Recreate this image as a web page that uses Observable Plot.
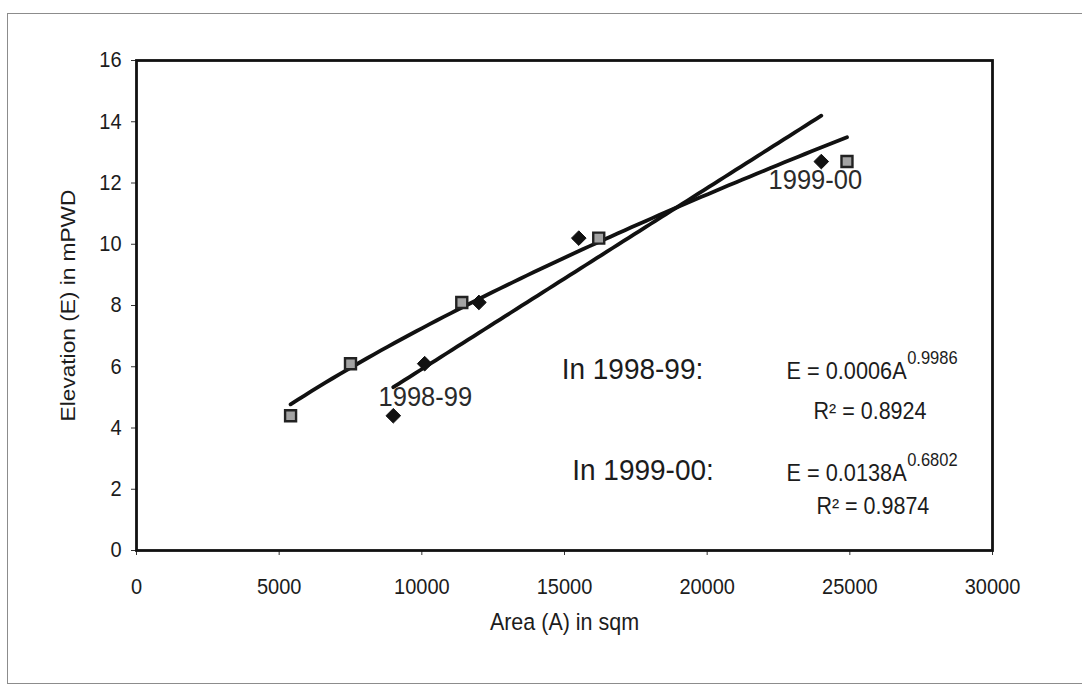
<!DOCTYPE html>
<html>
<head>
<meta charset="utf-8">
<script src="https://cdn.jsdelivr.net/npm/d3@7"></script>
<script src="https://cdn.jsdelivr.net/npm/@observablehq/plot@0.6"></script>
<style>
  html, body { margin: 0; padding: 0; background: #fff; }
  #wrap { position: relative; width: 1082px; height: 686px; overflow: hidden; }
  #wrap svg { position: absolute; left: 0; top: 0; }
  #sheet {
    position: absolute; left: 7px; top: 13px; width: 1120px; height: 671px;
    border: 1.5px solid #8c8c8c; border-right: none; box-sizing: border-box;
    pointer-events: none;
  }
</style>
</head>
<body>
<div id="wrap"><div id="sheet"></div></div>
<script>
// Axis ticks
const areaTicks = [0, 5000, 10000, 15000, 20000, 25000, 30000];
const elevTicks = [0, 2, 4, 6, 8, 10, 12, 14, 16];

// Surveyed points: water-surface area (sqm) against elevation (mPWD)
const area9899 = [9000, 10100, 12000, 15500, 24000];
const elev9899 = [4.4, 6.1, 8.1, 10.2, 12.7];
const area9900 = [5400, 7500, 11400, 16200, 24900];
const elev9900 = [4.4, 6.1, 8.1, 10.2, 12.7];

// Power-law fits E = a·A^b
const fit9899 = { label: "1998-99", a: 0.0006, b: 0.9986, r2: 0.8924 };
const fit9900 = { label: "1999-00", a: 0.0138, b: 0.6802, r2: 0.9874 };

const pts9899 = area9899.map((A, i) => ({ A, E: elev9899[i] }));
const pts9900 = area9900.map((A, i) => ({ A, E: elev9900[i] }));

// Sample the fitted curve across the span of each survey
function fitCurve(fit, areas) {
  const lo = d3.min(areas), hi = d3.max(areas), n = 80;
  return d3.range(n + 1).map(i => {
    const A = lo + (hi - lo) * i / n;
    return { A, E: fit.a * Math.pow(A, fit.b) };
  });
}

const ink = "#1c1c1c";
const font = "'Liberation Sans', Arial, Helvetica, sans-serif";

const chart = Plot.plot({
  width: 1082,
  height: 686,
  marginLeft: 136,
  marginRight: 90,
  marginTop: 60,
  marginBottom: 136,
  style: { fontFamily: font, fontSize: "20px", color: ink, background: "transparent", overflow: "visible" },
  x: { domain: [0, 30000] },
  y: { domain: [0, 16] },
  marks: [
    Plot.axisX(areaTicks, { tickSize: 5, tickPadding: 23, tickFormat: "d", label: null, fontSize: 20, stroke: "#333" }),
    Plot.axisY(elevTicks, { tickSize: 5, tickPadding: 10, tickFormat: "d", label: null, fontSize: 20, stroke: "#333" }),
    Plot.frame({ stroke: "#111", strokeWidth: 2.8 }),

    // Axis titles
    Plot.text(["Area (A) in sqm"], { frameAnchor: "bottom", dy: 79, fontSize: 21.5, fill: ink }),
    Plot.text(["Elevation (E) in mPWD"], { frameAnchor: "left", textAnchor: "middle", lineAnchor: "middle", dx: -68, rotate: -90, fontSize: 21, fill: ink }),

    // Fitted power curves
    Plot.line(fitCurve(fit9899, area9899), { x: "A", y: "E", stroke: "#111", strokeWidth: 3.8 }),
    Plot.line(fitCurve(fit9900, area9900), { x: "A", y: "E", stroke: "#111", strokeWidth: 3.8 }),

    // Observations
    Plot.dot(pts9899, { x: "A", y: "E", symbol: "diamond2", r: 6.6, fill: "#111", stroke: "#111", strokeWidth: 1 }),
    Plot.dot(pts9900, { x: "A", y: "E", symbol: "square", r: 6.2, fill: "#a3a3a3", stroke: "#222", strokeWidth: 2.4 }),

    // Series labels next to an end point of each survey
    Plot.text([pts9899[0]], { x: "A", y: "E", text: () => fit9899.label, dx: 32, dy: -19, fontSize: 25.5, fill: "#2a2a2a" }),
    Plot.text([pts9900[pts9900.length - 1]], { x: () => area9899[area9899.length - 1], y: "E", text: () => fit9900.label, dx: -6, dy: 19, fontSize: 25.5, fill: "#2a2a2a" }),

    // Fit equations
    Plot.text([`In ${fit9899.label}:`], { x: 14900, y: 5.9, textAnchor: "start", fontSize: 28, fill: ink }),
    Plot.text([`E = ${fit9899.a}A`], { x: 26990, y: 5.85, textAnchor: "end", fontSize: 21.7, fill: ink }),
    Plot.text([`${fit9899.b}`], { x: 27010, y: 6.27, textAnchor: "start", fontSize: 16.5, fill: ink }),
    Plot.text([`R² = ${fit9899.r2}`], { x: 23730, y: 4.55, textAnchor: "start", fontSize: 21.5, fill: ink }),

    Plot.text([`In ${fit9900.label}:`], { x: 15270, y: 2.62, textAnchor: "start", fontSize: 28, fill: ink }),
    Plot.text([`E = ${fit9900.a}A`], { x: 26990, y: 2.53, textAnchor: "end", fontSize: 21.7, fill: ink }),
    Plot.text([`${fit9900.b}`], { x: 27010, y: 2.95, textAnchor: "start", fontSize: 16.5, fill: ink }),
    Plot.text([`R² = ${fit9900.r2}`], { x: 23830, y: 1.42, textAnchor: "start", fontSize: 21.5, fill: ink })
  ]
});

// The lettering on this sheet runs slightly tall: stretch every label vertically about its anchor
d3.select(chart).selectAll("text").each(function () {
  const t = this.getAttribute("transform");
  if (t && /^translate\([^)]*\)/.test(t)) {
    this.setAttribute("transform", t.replace(/^translate\([^)]*\)/, m => `${m} scale(1,1.08)`));
  }
});

document.getElementById("wrap").prepend(chart);
</script>
</body>
</html>
